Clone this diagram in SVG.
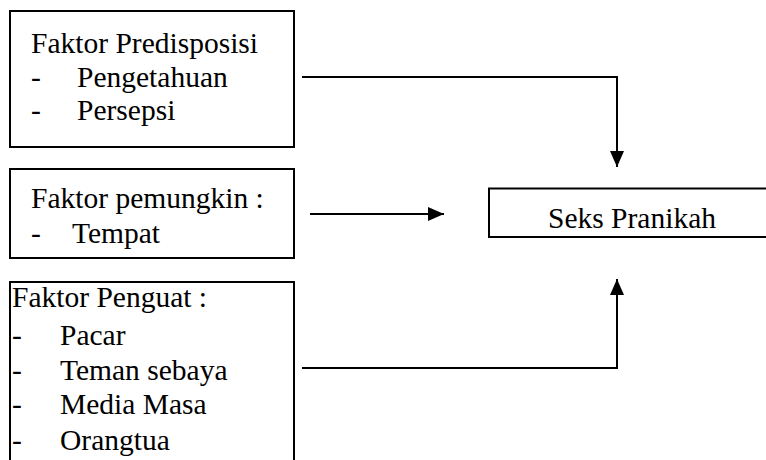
<svg xmlns="http://www.w3.org/2000/svg" width="766" height="460" viewBox="0 0 766 460">
<defs>
<style>
.box{fill:#fff;stroke:#000;stroke-width:2}
.t{font-family:"Liberation Serif","Times New Roman",serif;font-size:29.5px;fill:#000}
.c{fill:none;stroke:#000;stroke-width:2}
</style>
<marker id="ah" markerUnits="userSpaceOnUse" markerWidth="16" markerHeight="14" viewBox="0 0 16 14" refX="16" refY="7" orient="auto">
<path d="M0,0 L16,7 L0,14 Z" fill="#000"/>
</marker>
</defs>
<rect width="766" height="460" fill="#fff"/>
<g id="predisposisi">
<rect class="box" x="10" y="11" width="284" height="136"/>
<text class="t" x="31" y="53">Faktor Predisposisi</text>
<text class="t" x="31" y="87">-</text>
<text class="t" x="77" y="87">Pengetahuan</text>
<text class="t" x="31" y="120">-</text>
<text class="t" x="77" y="120">Persepsi</text>
</g>
<g id="pemungkin">
<rect class="box" x="10" y="169" width="284" height="89"/>
<text class="t" x="31" y="208">Faktor pemungkin :</text>
<text class="t" x="31" y="243">-</text>
<text class="t" x="72" y="243">Tempat</text>
</g>
<g id="penguat">
<path class="box" d="M10,470 V282 H294 V470"/>
<text class="t" x="12" y="307">Faktor Penguat :</text>
<text class="t" x="12" y="345">-</text>
<text class="t" x="60" y="345">Pacar</text>
<text class="t" x="12" y="380">-</text>
<text class="t" x="60" y="380">Teman sebaya</text>
<text class="t" x="12" y="414">-</text>
<text class="t" x="60" y="414">Media Masa</text>
<text class="t" x="12" y="450">-</text>
<text class="t" x="60" y="450">Orangtua</text>
</g>
<g id="seks">
<rect class="box" x="489" y="188.5" width="290" height="48.5"/>
<text class="t" x="548" y="228">Seks Pranikah</text>
</g>
<g id="connectors">
<path class="c" d="M302,77 H617 V167" marker-end="url(#ah)"/>
<path class="c" d="M310,214 H444" marker-end="url(#ah)"/>
<path class="c" d="M302,368 H617 V279" marker-end="url(#ah)"/>
</g>
</svg>
